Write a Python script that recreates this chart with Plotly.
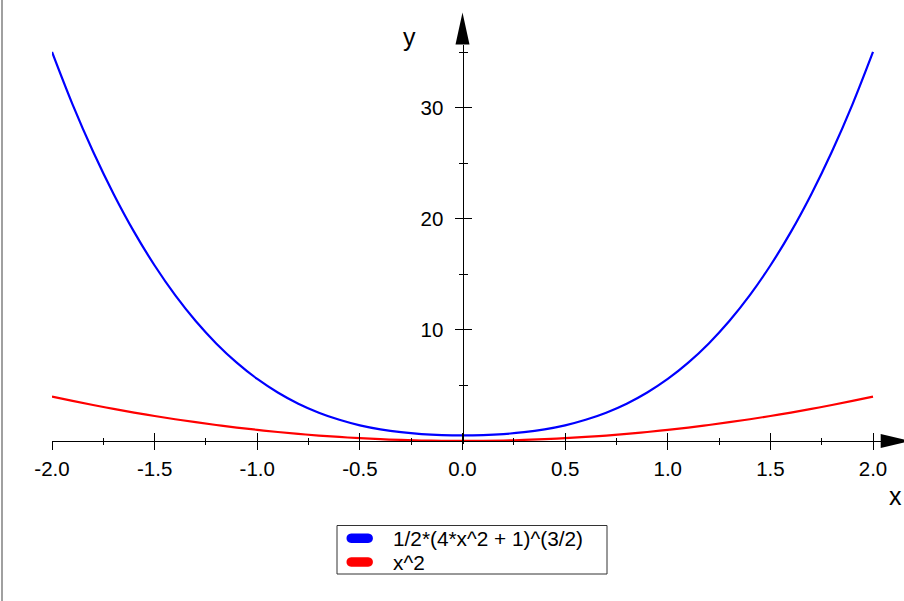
import plotly.graph_objects as go

# ---- data ----
x_vals = [-2.0, -1.9, -1.8, -1.7, -1.6, -1.5, -1.4, -1.3, -1.2, -1.1, -1.0,
          -0.9, -0.8, -0.7, -0.6, -0.5, -0.4, -0.3, -0.2, -0.1, 0.0,
          0.1, 0.2, 0.3, 0.4, 0.5, 0.6, 0.7, 0.8, 0.9, 1.0,
          1.1, 1.2, 1.3, 1.4, 1.5, 1.6, 1.7, 1.8, 1.9, 2.0]
blue_vals = [35.05, 30.33, 26.08, 22.26, 18.84, 15.81, 13.14, 10.81, 8.79, 7.06, 5.59,
             4.37, 3.36, 2.55, 1.91, 1.41, 1.05, 0.79, 0.62, 0.53, 0.50,
             0.53, 0.62, 0.79, 1.05, 1.41, 1.91, 2.55, 3.36, 4.37, 5.59,
             7.06, 8.79, 10.81, 13.14, 15.81, 18.84, 22.26, 26.08, 30.33, 35.05]
red_vals = [4.00, 3.61, 3.24, 2.89, 2.56, 2.25, 1.96, 1.69, 1.44, 1.21, 1.00,
            0.81, 0.64, 0.49, 0.36, 0.25, 0.16, 0.09, 0.04, 0.01, 0.00,
            0.01, 0.04, 0.09, 0.16, 0.25, 0.36, 0.49, 0.64, 0.81, 1.00,
            1.21, 1.44, 1.69, 1.96, 2.25, 2.56, 2.89, 3.24, 3.61, 4.00]
series_names = ["1/2*(4*x^2 + 1)^(3/2)", "x^2"]
series_colors = ["#0000ff", "#ff0000"]

x_major = [-2.0, -1.5, -1.0, -0.5, 0.0, 0.5, 1.0, 1.5, 2.0]
x_major_text = ["-2.0", "-1.5", "-1.0", "-0.5", "0.0", "0.5", "1.0", "1.5", "2.0"]
x_minor = [-1.75, -1.25, -0.75, -0.25, 0.25, 0.75, 1.25, 1.75]
y_major = [10, 20, 30]
y_major_text = ["10", "20", "30"]
y_minor = [5, 15, 25, 35]

# ---- layout geometry ----
W, H = 904, 601
FONT = "Liberation Sans, Arial, sans-serif"
x_dom = [52 / W, 1.0]
x_range = [-2.0, 2.151]
y_range = [-0.3, 35.72]
y_dom = [(H - 444.3) / H, (H - 44.5) / H]
x_axis_pos = (H - 441) / H          # paper y of data y = 0
y_axis_pos = 462.5 / W               # paper x of data x = 0
AX = "#000000"

fig = go.Figure()
for yv, name, col in zip([blue_vals, red_vals], series_names, series_colors):
    fig.add_trace(go.Scatter(x=x_vals, y=yv, mode="lines", name=name,
                             line=dict(color=col, width=2.2, shape="spline"),
                             showlegend=False, hoverinfo="skip"))
# helper trace so the overlaying axes are drawn
fig.add_trace(go.Scatter(x=[None], y=[None], xaxis="x2", yaxis="y2",
                         showlegend=False, hoverinfo="skip"))

tickfont = dict(family=FONT, size=20.5, color="#000000")
fig.update_layout(
    template="none",
    width=W, height=H, autosize=False,
    margin=dict(l=0, r=0, t=0, b=0, pad=0),
    paper_bgcolor="white", plot_bgcolor="white",
    font=dict(family=FONT, color="#000000"),
    showlegend=False,
    xaxis=dict(domain=x_dom, range=x_range, anchor="free", position=x_axis_pos,
               automargin=False,
               showgrid=False, zeroline=False, showline=True, linecolor=AX, linewidth=1,
               ticks="outside", ticklen=8, tickwidth=1, tickcolor=AX,
               tickmode="array", tickvals=x_major, ticktext=x_major_text,
               tickfont=tickfont, ticklabelstandoff=1,
               minor=dict(tickmode="array", tickvals=x_minor, ticks="outside",
                          ticklen=3, tickwidth=1, tickcolor=AX)),
    xaxis2=dict(domain=x_dom, range=x_range, overlaying="x", anchor="free",
                position=x_axis_pos, automargin=False,
                showgrid=False, zeroline=False, showline=False,
                ticks="inside", ticklen=8, tickwidth=1, tickcolor=AX,
                tickmode="array", tickvals=x_major, showticklabels=False,
                minor=dict(tickmode="array", tickvals=x_minor, ticks="inside",
                           ticklen=3, tickwidth=1, tickcolor=AX)),
    yaxis=dict(domain=y_dom, range=y_range, anchor="free", position=y_axis_pos,
               automargin=False,
               showgrid=False, zeroline=False, showline=True, linecolor=AX, linewidth=1,
               ticks="outside", ticklen=8, tickwidth=1, tickcolor=AX,
               tickmode="array", tickvals=y_major, ticktext=y_major_text,
               tickfont=tickfont, ticklabelstandoff=7,
               minor=dict(tickmode="array", tickvals=y_minor, ticks="outside",
                          ticklen=4, tickwidth=1, tickcolor=AX)),
    yaxis2=dict(domain=y_dom, range=y_range, overlaying="y", anchor="free",
                position=y_axis_pos, automargin=False,
                showgrid=False, zeroline=False, showline=False,
                ticks="inside", ticklen=8, tickwidth=1, tickcolor=AX,
                tickmode="array", tickvals=y_major, showticklabels=False,
                minor=dict(tickmode="array", tickvals=y_minor, ticks="inside",
                           ticklen=4, tickwidth=1, tickcolor=AX)),
)

# axis arrows (pixel-sized, anchored to the axis ends)
fig.add_shape(type="path", xref="paper", yref="paper",
              xsizemode="pixel", ysizemode="pixel",
              xanchor=y_axis_pos, yanchor=y_dom[1],
              path="M -7,0 L 7,0 L 0,32 Z",
              fillcolor="#000000", line=dict(color="#000000", width=0))
fig.add_shape(type="path", xref="paper", yref="paper",
              xsizemode="pixel", ysizemode="pixel",
              xanchor=880.7 / W, yanchor=x_axis_pos,
              path="M 0,-7 L 0,7 L 30,0 Z",
              fillcolor="#000000", line=dict(color="#000000", width=0))
# left frame line
fig.add_shape(type="line", xref="paper", yref="paper", x0=2 / W, x1=2 / W, y0=0, y1=1,
              line=dict(color="#808080", width=1.5))

# axis titles
fig.add_annotation(text="y", xref="paper", yref="paper", x=409.7 / W, y=(H - 37) / H,
                   showarrow=False, xanchor="center", yanchor="middle",
                   font=dict(family=FONT, size=25, color="#000000"))
fig.add_annotation(text="x", xref="paper", yref="paper", x=895 / W, y=(H - 496.5) / H,
                   showarrow=False, xanchor="center", yanchor="middle",
                   font=dict(family=FONT, size=25, color="#000000"))

# legend box (drawn so its compact spacing matches the reference)
LEG_L, LEG_R, LEG_T, LEG_B = 337, 607, 525.5, 574
fig.add_shape(type="rect", xref="paper", yref="paper",
              x0=LEG_L / W, x1=LEG_R / W, y0=(H - LEG_B) / H, y1=(H - LEG_T) / H,
              line=dict(color="#333333", width=1), fillcolor="white")
leg_rows = [538.3, 562.0]
for name, col, ry in zip(series_names, series_colors, leg_rows):
    fig.add_shape(type="path", xref="paper", yref="paper",
                  xsizemode="pixel", ysizemode="pixel",
                  xanchor=359.7 / W, yanchor=(H - ry) / H,
                  path="M -8.5,-4.7 L 8.5,-4.7 C 14.8,-4.7 14.8,4.7 8.5,4.7 "
                       "L -8.5,4.7 C -14.8,4.7 -14.8,-4.7 -8.5,-4.7 Z",
                  fillcolor=col, line=dict(color=col, width=0))
    fig.add_annotation(text=name, xref="paper", yref="paper",
                       x=391 / W, y=(H - ry) / H, showarrow=False,
                       xanchor="left", yanchor="middle",
                       font=dict(family=FONT, size=20.8, color="#000000"))

fig.write_html("out.html", config={"displayModeBar": False},
               post_script="document.body.style.margin='0';")
